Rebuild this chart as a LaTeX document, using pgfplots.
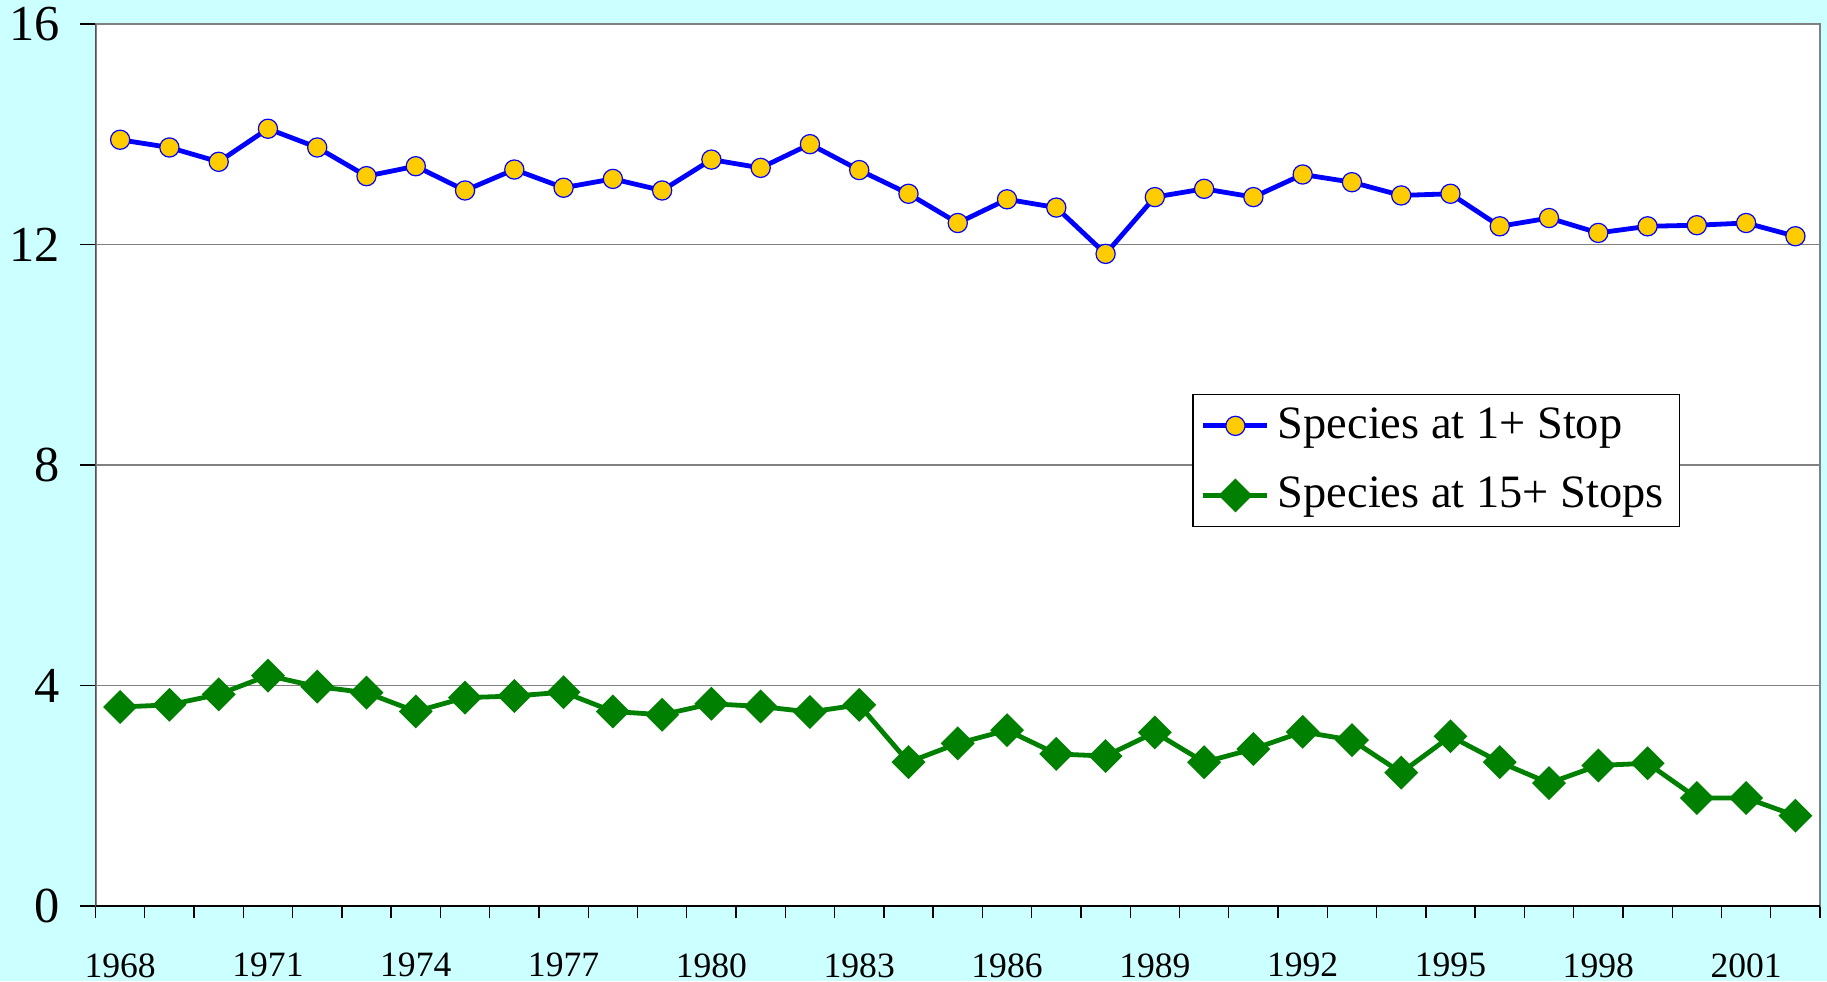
\documentclass[border=0pt]{standalone}
\usepackage{pgfplots}
\pgfplotsset{compat=1.18}
\usepackage{fontspec}
\setmainfont{Liberation Serif}
\usetikzlibrary{backgrounds,calc}
\definecolor{bgcyan}{HTML}{CCFFFF}
\definecolor{gold}{HTML}{FFCC00}
\definecolor{dgreen}{HTML}{008000}

\begin{document}
\begin{tikzpicture}
  \begin{axis}[
      name=ax,
      scale only axis,
      width=431.1pt, height=220.5pt,
      xmin=1967.5, xmax=2002.5,
      ymin=0, ymax=16,
      ytick={0,4,8,12,16},
      xtick={1968,1971,...,2001},
      minor xtick={1967.5,1968.5,...,2002.5},
      tick align=outside,
      major tick length=3.8pt,
      minor tick length=3pt,
      major x tick style={draw=none},
      minor x tick style={black, line width=0.35pt},
      y tick style={black, line width=0.35pt},
      xtick pos=bottom, ytick pos=left,
      ymajorgrids,
      major grid style={gray, line width=0.4pt},
      axis line style={draw=gray, line width=0.5pt},
      axis background/.style={fill=white},
      /pgf/number format/assume math mode=true,
      /pgf/number format/1000 sep={},
      yticklabel style={font=\fontsize{12.6}{15}\selectfont, inner sep=1pt, xshift=-4pt},
      xticklabel style={font=\fontsize{8.9}{10}\selectfont, yshift=-4.5pt},
      legend style={
        at={(0.636,0.5805)}, anchor=north west,
        font=\fontsize{11.6}{13}\selectfont,
        draw=black, line width=0.35pt, fill=white,
        inner xsep=2pt, inner ysep=1.2pt,
        row sep=4.2pt,
      },
      legend cell align=left,
      legend image code/.code={
        \draw[mark repeat=2, mark phase=2, #1]
          plot coordinates {(0pt,0pt) (8pt,0pt) (16pt,0pt)};
      },
    ]
    \addplot[blue, line width=1.2pt, mark=*, mark size=2.4pt,
             mark options={fill=gold, draw=blue, line width=0.3pt}]
      coordinates {
        (1968,13.90) (1969,13.76) (1970,13.50) (1971,14.10) (1972,13.76)
        (1973,13.24) (1974,13.42) (1975,12.98) (1976,13.36) (1977,13.03)
        (1978,13.19) (1979,12.98) (1980,13.54) (1981,13.39) (1982,13.82)
        (1983,13.35) (1984,12.92) (1985,12.39) (1986,12.82) (1987,12.67)
        (1988,11.83) (1989,12.86) (1990,13.01) (1991,12.86) (1992,13.27)
        (1993,13.13) (1994,12.89) (1995,12.92) (1996,12.33) (1997,12.48)
        (1998,12.21) (1999,12.33) (2000,12.35) (2001,12.39) (2002,12.15)
      };
    \addplot[dgreen, line width=1.2pt, mark=square*, mark size=2.4pt,
             mark options={fill=dgreen, draw=dgreen, rotate=45}]
      coordinates {
        (1968,3.61) (1969,3.65) (1970,3.84) (1971,4.18) (1972,3.98)
        (1973,3.87) (1974,3.53) (1975,3.78) (1976,3.81) (1977,3.88)
        (1978,3.53) (1979,3.47) (1980,3.67) (1981,3.62) (1982,3.52)
        (1983,3.65) (1984,2.61) (1985,2.95) (1986,3.19) (1987,2.76)
        (1988,2.72) (1989,3.15) (1990,2.61) (1991,2.85) (1992,3.16)
        (1993,3.01) (1994,2.42) (1995,3.08) (1996,2.61) (1997,2.23)
        (1998,2.55) (1999,2.59) (2000,1.96) (2001,1.96) (2002,1.64)
      };
    \legend{Species at 1+ Stop, Species at 15+ Stops}
    % dark left and bottom axis lines
    \draw[black, line width=0.35pt]
      (rel axis cs:0,1) -- (rel axis cs:0,0) -- (rel axis cs:1,0);
  \end{axis}
  \begin{scope}[on background layer]
    \fill[bgcyan] ($(ax.south west)+(-23.875pt,-18.75pt)$)
      rectangle ($(ax.north east)+(1.75pt,6pt)$);
  \end{scope}
  \pgfresetboundingbox
  \useasboundingbox ($(ax.south west)+(-23.875pt,-18.75pt)$)
    rectangle ($(ax.north east)+(1.75pt,6pt)$);
\end{tikzpicture}
\end{document}
